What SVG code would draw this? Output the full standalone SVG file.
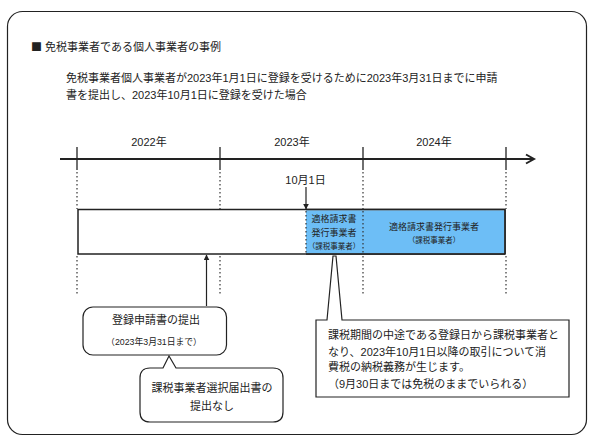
<svg xmlns="http://www.w3.org/2000/svg" width="599" height="447" viewBox="0 0 599 447">
<defs>
<style>
text{font-family:"Liberation Sans","Noto Sans CJK JP",sans-serif;fill:#222;}
.t11{font-size:11px;}
.t9{font-size:9px;}
.t8{font-size:8.8px;}
.t7{font-size:7.5px;}
.mid{text-anchor:middle;}
.cjk{font-family:"Noto Sans CJK JP",sans-serif;}
.dot{stroke:#333;stroke-width:1.2;stroke-dasharray:1.5 2.5;fill:none;}
.tick{stroke:#222;stroke-width:1.3;}
.box{fill:#fff;stroke:#222;stroke-width:1.2;}
</style>
<marker id="ah" viewBox="0 0 10 10" refX="9" refY="5" markerWidth="6" markerHeight="6" orient="auto" markerUnits="userSpaceOnUse">
<path d="M0,0 L10,5 L0,10 z" fill="#222"/>
</marker>
</defs>
<rect width="599" height="447" fill="#fff"/>
<rect id="frame" x="7.5" y="11.5" width="579" height="423" rx="15" fill="#fff" stroke="#222" stroke-width="1.2"/>
<g id="heading">
<text class="t11" x="31" y="51"><tspan class="cjk">■</tspan> 免税事業者である個人事業者の事例</text>
<text class="t11" x="66" y="82">免税事業者個人事業者が2023年1月1日に登録を受けるために2023年3月31日までに申請</text>
<text class="t11" x="66" y="99">書を提出し、2023年10月1日に登録を受けた場合</text>
</g>
<g id="timeline">
<line x1="60" y1="159" x2="534" y2="159" stroke="#222" stroke-width="2"/>
<path d="M526,154.5 L534,159 L526,163.5" fill="none" stroke="#222" stroke-width="2"/>
<line class="tick" x1="77" y1="147" x2="77" y2="170"/>
<line class="tick" x1="220" y1="147" x2="220" y2="170"/>
<line class="tick" x1="363" y1="147" x2="363" y2="170"/>
<line class="tick" x1="506" y1="147" x2="506" y2="170"/>
<text class="t11 mid" x="149" y="146">2022年</text>
<text class="t11 mid" x="292" y="146">2023年</text>
<text class="t11 mid" x="434" y="146">2024年</text>
<line class="dot" x1="77" y1="172" x2="77" y2="209"/>
<line class="dot" x1="220" y1="172" x2="220" y2="209"/>
<line class="dot" x1="363" y1="172" x2="363" y2="209"/>
<line class="dot" x1="506" y1="172" x2="506" y2="209"/>
<line class="dot" x1="77" y1="256" x2="77" y2="294"/>
<line class="dot" x1="220" y1="256" x2="220" y2="294"/>
<line class="dot" x1="363" y1="256" x2="363" y2="294"/>
<line class="dot" x1="506" y1="256" x2="506" y2="294"/>
</g>
<g id="period-bar">
<rect x="78" y="209.5" width="427" height="44.5" fill="#fff" stroke="#222" stroke-width="1.5"/>
<rect x="306" y="210.3" width="198.3" height="43" fill="#6DBEF6"/>
<line class="dot" x1="306" y1="211" x2="306" y2="253"/>
<line class="dot" x1="363" y1="211" x2="363" y2="253"/>
<line x1="306" y1="209.5" x2="505" y2="209.5" stroke="#222" stroke-width="1.5"/>
<line x1="306" y1="254" x2="505" y2="254" stroke="#222" stroke-width="1.5"/>
<line x1="505" y1="209.5" x2="505" y2="254" stroke="#222" stroke-width="1.5"/>
<text class="t9 mid" x="334" y="222">適格請求書</text>
<text class="t9 mid" x="334" y="235.5">発行事業者</text>
<text class="t7 mid" x="334" y="248.5">（課税事業者）</text>
<text class="t9 mid" x="434" y="230">適格請求書発行事業者</text>
<text class="t7 mid" x="434" y="242.5">（課税事業者）</text>
</g>
<g id="date-marker">
<text class="t11 mid" x="305.5" y="184">10月1日</text>
</g>
<g id="connectors">
<line x1="306" y1="187" x2="306" y2="209" stroke="#222" stroke-width="1.2" marker-end="url(#ah)"/>
<line x1="206.5" y1="306" x2="206.5" y2="255" stroke="#222" stroke-width="1.2" marker-end="url(#ah)"/>
</g>
<g id="callout-application">
<rect class="box" x="83" y="307" width="143.5" height="48" rx="10"/>
<text class="t11 mid" x="156" y="324">登録申請書の提出</text>
<text class="t8 mid" x="154" y="345">（2023年3月31日まで）</text>
</g>
<g id="callout-no-election">
<path class="box" d="M150,368 L163,368 L169,356 L176,368 L273,368 Q283,368 283,378 L283,412 Q283,422 273,422 L150,422 Q140,422 140,412 L140,378 Q140,368 150,368 Z"/>
<text class="t11 mid" x="212" y="392">課税事業者選択届出書の</text>
<text class="t11 mid" x="212" y="410">提出なし</text>
</g>
<g id="callout-taxable">
<path class="box" d="M316,320 L327,320 L333,256 L336,256 L342,320 L569,320 L569,397 L316,397 Z"/>
<text class="t11" x="328" y="339">課税期間の中途である登録日から課税事業者と</text>
<text class="t11" x="328" y="356">なり、2023年10月1日以降の取引について消</text>
<text class="t11" x="328" y="371">費税の納税義務が生じます。</text>
<text class="t11" x="328" y="388">（9月30日までは免税のままでいられる）</text>
</g>
</svg>
